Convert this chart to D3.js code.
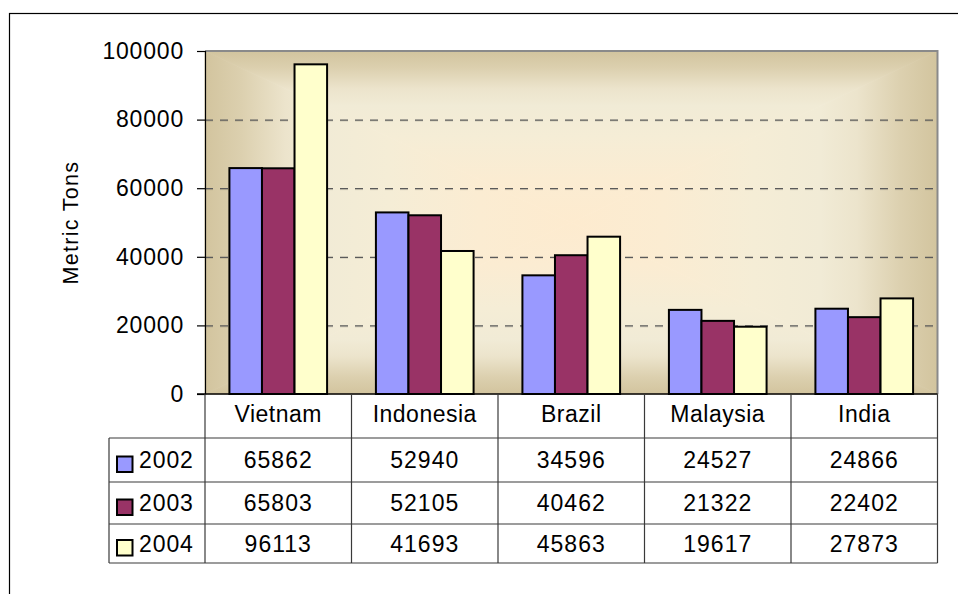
<!DOCTYPE html>
<html>
<head>
<meta charset="utf-8">
<script src="https://cdn.jsdelivr.net/npm/d3@7"></script>
<style>
  html, body { margin: 0; padding: 0; background: #fff; }
  svg { display: block; }
  text { font-family: "Liberation Sans", Arial, sans-serif; fill: #000; }
</style>
</head>
<body>
<svg id="chart" width="958" height="594"></svg>
<script>
// ---- data ----
const categories = ["Vietnam", "Indonesia", "Brazil", "Malaysia", "India"];
const years = ["2002", "2003", "2004"];
const values2002 = [65862, 52940, 34596, 24527, 24866];
const values2003 = [65803, 52105, 40462, 21322, 22402];
const values2004 = [96113, 41693, 45863, 19617, 27873];
const yTicks = [0, 20000, 40000, 60000, 80000, 100000];
const yTitle = "Metric Tons";
const seriesColors = ["#9999FF", "#993366", "#FFFFCC"];

const series = [values2002, values2003, values2004];

// ---- layout ----
const W = 958, H = 594;
const plot = { left: 205, top: 51, right: 937.5, bottom: 394 };
const rowLines = [438, 482, 524, 563];   // table row boundaries
const tableLeft = 109;
const fs = 23;

const svg = d3.select("#chart");
const defs = svg.append("defs");

// outer frame (extends beyond the viewport)
svg.append("rect").attr("x", 9.5).attr("y", 13.5).attr("width", 1000).attr("height", 700)
  .attr("fill", "#fff").attr("stroke", "#000").attr("stroke-width", 1.2);

// scales
const x = d3.scaleBand().domain(categories).range([plot.left, plot.right]).padding(0);
const y = d3.scaleLinear().domain([0, 100000]).range([plot.bottom, plot.top]);
const bw = x.bandwidth() / 4.5;
const xs = d3.scaleBand().domain(years).range([0.75 * bw, 3.75 * bw]).padding(0);

// ---- plot-area background: rectangular "from center" gradient ----
const cx = (plot.left + plot.right) / 2, cy = (plot.top + plot.bottom) / 2;
const stops = [
  [0.00, "#D2C49E"],
  [0.10, "#DCD0AF"],
  [0.22, "#ECE4CC"],
  [0.32, "#F1EBD6"],
  [0.50, "#F5EDD6"],
  [0.75, "#FBECD2"],
  [1.00, "#FDEBCF"]
];
const tris = [
  { id: "gTop", pts: [[plot.left, plot.top], [plot.right, plot.top], [cx, cy]], g: [cx, plot.top, cx, cy] },
  { id: "gBot", pts: [[plot.left, plot.bottom], [plot.right, plot.bottom], [cx, cy]], g: [cx, plot.bottom, cx, cy] },
  { id: "gLeft", pts: [[plot.left, plot.top], [plot.left, plot.bottom], [cx, cy]], g: [plot.left, cy, cx, cy] },
  { id: "gRight", pts: [[plot.right, plot.top], [plot.right, plot.bottom], [cx, cy]], g: [plot.right, cy, cx, cy] }
];
tris.forEach(t => {
  const lg = defs.append("linearGradient").attr("id", t.id).attr("gradientUnits", "userSpaceOnUse")
    .attr("x1", t.g[0]).attr("y1", t.g[1]).attr("x2", t.g[2]).attr("y2", t.g[3]);
  stops.forEach(s => lg.append("stop").attr("offset", s[0]).attr("stop-color", s[1]));
  svg.append("polygon").attr("points", t.pts.map(p => p.join(",")).join(" "))
    .attr("fill", `url(#${t.id})`).attr("stroke", `url(#${t.id})`).attr("stroke-width", 0.8);
});

// gridlines
const grid = svg.append("g");
yTicks.filter(v => v > 0 && v < 100000).forEach(v => {
  grid.append("line").attr("x1", plot.left).attr("x2", plot.right)
    .attr("y1", y(v) + 1.5).attr("y2", y(v) + 1.5)
    .attr("stroke", "rgba(0,0,0,0.12)").attr("stroke-width", 1).attr("stroke-dasharray", "8,7");
  grid.append("line").attr("x1", plot.left).attr("x2", plot.right)
    .attr("y1", y(v) + 0.5).attr("y2", y(v) + 0.5)
    .attr("stroke", "#5a5a5a").attr("stroke-width", 1.2).attr("stroke-dasharray", "8,7");
});

// plot border (grey top/right)
svg.append("path")
  .attr("d", `M${plot.left},${plot.top} H${plot.right} V${plot.bottom}`)
  .attr("fill", "none").attr("stroke", "#8a8a8a").attr("stroke-width", 2);

// bars
const barG = svg.append("g");
categories.forEach((c, i) => {
  years.forEach((yr, j) => {
    const v = series[j][i];
    barG.append("rect")
      .attr("x", x(c) + xs(yr))
      .attr("y", y(v))
      .attr("width", xs.bandwidth())
      .attr("height", y(0) - y(v))
      .attr("fill", seriesColors[j])
      .attr("stroke", "#000").attr("stroke-width", 2);
  });
});

// y axis
const yAxis = d3.axisLeft(y).tickValues(yTicks).tickFormat(d3.format("d")).tickSize(8).tickPadding(13);
const ya = svg.append("g").attr("transform", `translate(${plot.left},0)`).call(yAxis);
ya.select(".domain").attr("stroke", "#000").attr("stroke-width", 1.2);
ya.selectAll(".tick line").attr("stroke", "#000").attr("stroke-width", 1.2);
ya.selectAll(".tick text").style("font-size", fs + "px").style("letter-spacing", "0.8px")
  .style("font-family", '"Liberation Sans", Arial, sans-serif').attr("fill", "#000");

// y title
svg.append("text")
  .attr("transform", `translate(78, ${cy}) rotate(-90)`)
  .attr("text-anchor", "middle")
  .style("font-size", "21.5px").style("letter-spacing", "1.3px")
  .text(yTitle);

// ---- data table ----
const tbl = svg.append("g");
const lineCol = "#3a3a3a";
// horizontal lines
tbl.append("line").attr("x1", plot.left - 8).attr("x2", plot.right).attr("y1", plot.bottom).attr("y2", plot.bottom)
  .attr("stroke", "#000").attr("stroke-width", 1.3);
rowLines.forEach(ry => {
  tbl.append("line").attr("x1", tableLeft).attr("x2", plot.right).attr("y1", ry).attr("y2", ry)
    .attr("stroke", lineCol).attr("stroke-width", 1.2);
});
// vertical lines
const colEdges = categories.map(c => x(c)).concat([plot.right]);
colEdges.forEach(ex => {
  tbl.append("line").attr("x1", ex).attr("x2", ex).attr("y1", plot.bottom).attr("y2", rowLines[3])
    .attr("stroke", lineCol).attr("stroke-width", 1.2);
});
tbl.append("line").attr("x1", tableLeft).attr("x2", tableLeft).attr("y1", rowLines[0]).attr("y2", rowLines[3])
  .attr("stroke", lineCol).attr("stroke-width", 1.2);

// header labels
categories.forEach(c => {
  tbl.append("text").attr("x", x(c) + x.bandwidth() / 2).attr("y", 421.5)
    .attr("text-anchor", "middle").style("font-size", fs + "px").style("letter-spacing", "0.5px")
    .text(c);
});

// rows
years.forEach((yr, j) => {
  const top = rowLines[j], bot = rowLines[j + 1];
  const mid = (top + bot) / 2;
  const base = mid + fs * 0.36;
  tbl.append("rect").attr("x", 117).attr("y", mid - 3.5).attr("width", 15.5).attr("height", 15.5)
    .attr("fill", seriesColors[j]).attr("stroke", "#000").attr("stroke-width", 2);
  tbl.append("text").attr("x", 139).attr("y", base)
    .style("font-size", fs + "px").style("letter-spacing", "0.9px").text(yr);
  categories.forEach((c, i) => {
    tbl.append("text").attr("x", x(c) + x.bandwidth() / 2).attr("y", base)
      .attr("text-anchor", "middle").style("font-size", fs + "px").style("letter-spacing", "1px")
      .text(series[j][i]);
  });
});
</script>
</body>
</html>
